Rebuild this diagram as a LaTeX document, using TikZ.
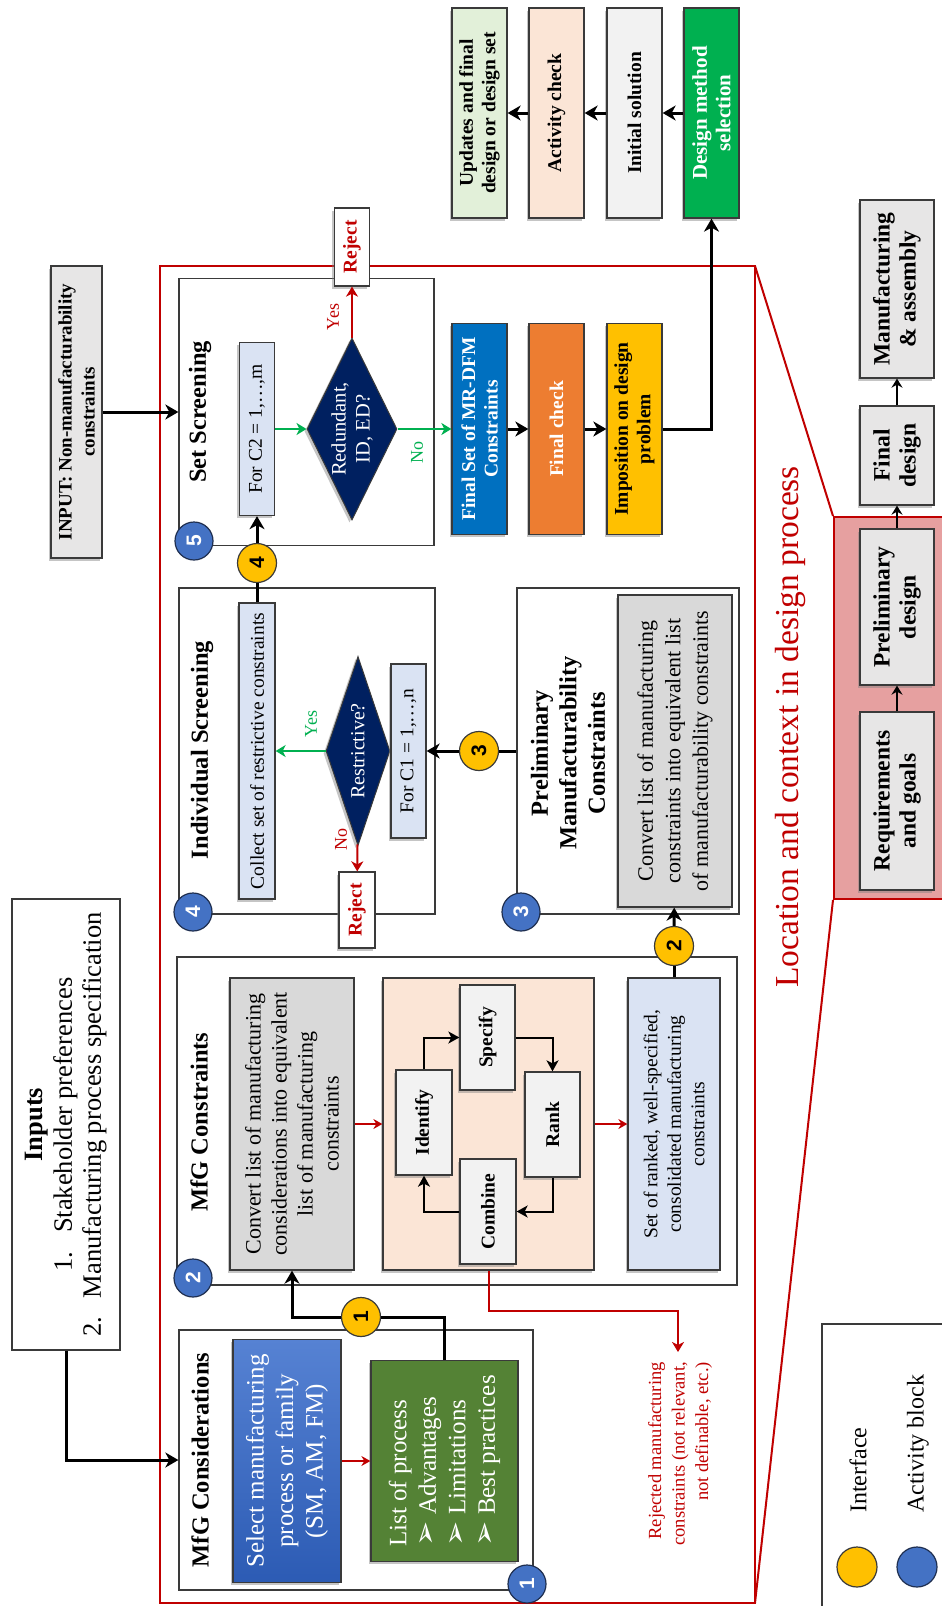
\documentclass[tikz,border=0pt]{standalone}
\usepackage{fontspec}
\setmainfont{Liberation Serif}
\newfontfamily\sansf{Liberation Sans}
\newfontfamily\dejavu{DejaVu Sans}
\usetikzlibrary{arrows.meta,shapes.geometric,shadows}
\definecolor{redc}{HTML}{C00000}
\definecolor{greenc}{HTML}{00B050}
\definecolor{navyc}{HTML}{002060}
\definecolor{lblue}{HTML}{DAE3F3}
\definecolor{bluec}{HTML}{0070C0}
\definecolor{orangec}{HTML}{ED7D31}
\definecolor{goldc}{HTML}{FFC000}
\definecolor{lgreen}{HTML}{E2F0D9}
\definecolor{peach}{HTML}{FBE5D6}
\definecolor{lgray}{HTML}{F2F2F2}
\definecolor{mgray}{HTML}{D9D9D9}
\definecolor{pgray}{HTML}{E7E6E6}
\definecolor{listgreen}{HTML}{548235}
\definecolor{bluetop}{HTML}{5682D3}
\definecolor{bluebot}{HTML}{2C5BB4}
\definecolor{pinkc}{HTML}{E6A0A0}
\definecolor{circblue}{HTML}{4472C4}
\definecolor{edgec}{HTML}{3A3A3A}
\definecolor{circedge}{HTML}{1F2F50}
\newcommand{\itemarrow}{\makebox[32pt][l]{\dejavu\fontsize{30}{30}\selectfont ➢}}
\tikzset{
  rot/.style={rotate=90},
  frame/.style={rot, draw=edgec, line width=1.3pt, fill=white, inner sep=0pt},
  box/.style={rot, draw=edgec, line width=1.3pt, inner sep=1pt, align=center,
    drop shadow={shadow xshift=-2.5pt, shadow yshift=-2.5pt, opacity=0.45}},
  txtb/.style={font=\bfseries\fontsize{19.5}{22.5}\selectfont},
  txtr/.style={font=\fontsize{19.5}{23.5}\selectfont},
  txtl/.style={font=\fontsize{25}{29.5}\selectfont},
  heading/.style={rot, font=\bfseries\fontsize{24.5}{28.5}\selectfont, align=center},
  ycirc/.style={circle, rot, draw=edgec, line width=1.2pt, fill=goldc, minimum size=39pt, inner sep=0pt, font=\sansf\bfseries\fontsize{21}{21}\selectfont},
  bcirc/.style={circle, rot, draw=circedge, line width=1.2pt, fill=circblue, text=white, minimum size=38pt, inner sep=0pt, font=\sansf\bfseries\fontsize{21}{21}\selectfont},
  flow/.style={line width=3pt, draw=black, -{Stealth[length=13pt,width=15pt,inset=4pt]}},
  flowline/.style={line width=3pt, draw=black},
  smallflow/.style={line width=2.6pt, draw=black, -{Stealth[length=9pt,width=11pt,inset=3pt]}},
  cyc/.style={line width=2pt, draw=black, -{Stealth[length=11pt,width=12pt,inset=3pt]}},
  garrow/.style={line width=2pt, draw=greenc, -{Stealth[length=10pt,width=12pt,inset=3pt]}},
  rarrow/.style={line width=2pt, draw=redc, -{Stealth[length=10pt,width=12pt,inset=3pt]}},
  thinred/.style={line width=1.2pt, draw=redc, -{Stealth[length=9pt,width=10pt,inset=3pt]}},
  lbl/.style={rot, font=\fontsize{18}{20}\selectfont},
}
\begin{document}
\begin{tikzpicture}[x=1pt,y=-1pt]
\useasboundingbox (0,0) rectangle (942,1606);
\clip (0,0) rectangle (942,1606);
\fill[white] (0,0) rectangle (942,1606);

% ---------- context (right side) ----------
\draw[redc, line width=2pt] (160,266) rectangle (755,1603);
\coordinate (ftr) at (755,266);
\coordinate (fbr) at (755,1603);
\node[rot, draw=redc, line width=2pt, fill=pinkc, minimum width=382pt, minimum height=130pt, inner sep=0pt] (pink) at (899,708) {};
\draw[redc, line width=2pt] (ftr) -- (pink.north east);
\draw[redc, line width=2pt] (fbr) -- (pink.north west);
\node[rot, text=redc, font=\fontsize{33.5}{36}\selectfont] (loc) at (790,727) {Location and context in design process};

\node[box, fill=pgray, font=\bfseries\fontsize{23.5}{26}\selectfont, minimum width=178pt, minimum height=74pt] (manuf) at (897,289) {Manufacturing\\\& assembly};
\node[box, fill=pgray, font=\bfseries\fontsize{23.5}{26}\selectfont, minimum width=99pt, minimum height=74pt] (finald) at (897,455.5) {Final\\design};
\node[box, fill=pgray, font=\bfseries\fontsize{23.5}{26}\selectfont, minimum width=156pt, minimum height=74pt] (prelimd) at (897,607) {Preliminary\\design};
\node[box, fill=pgray, font=\bfseries\fontsize{23.5}{26}\selectfont, minimum width=178pt, minimum height=74pt] (req) at (897,801) {Requirements\\and goals};
\draw[smallflow] (req) -- (prelimd);
\draw[smallflow] (prelimd) -- (finald);
\draw[smallflow] (finald) -- (manuf);

% legend
\node[rot, draw=edgec, line width=1.2pt, fill=white, minimum width=320pt, minimum height=160pt] (legend) at (902,1484) {};
\node[ycirc, minimum size=40pt] (legy) at (857,1567) {};
\node[bcirc, minimum size=40pt] (legb) at (917,1567) {};
\node[rot, anchor=west, font=\fontsize{24}{26}\selectfont, inner sep=0pt] (legyt) at (858,1513) {Interface};
\node[rot, anchor=west, font=\fontsize{24}{26}\selectfont, inner sep=0pt] (legbt) at (918,1513) {Activity block};

% ---------- top right chain ----------
\node[box, fill=lgreen, txtb, minimum width=210pt, minimum height=55pt] (upd) at (479.5,113) {Updates and final\\design or design set};
\node[box, fill=peach, txtb, minimum width=210pt, minimum height=55pt] (act) at (556.5,113) {Activity check};
\node[box, fill=lgray, txtb, minimum width=210pt, minimum height=55pt] (init) at (634.5,113) {Initial solution};
\node[box, fill=greenc, text=white, font=\bfseries\fontsize{21}{23.5}\selectfont, minimum width=210pt, minimum height=55pt] (design) at (711.5,113) {Design method\\selection};
\draw[flow] (design) -- (init);
\draw[flow] (init) -- (act);
\draw[flow] (act) -- (upd);

% ---------- inputs ----------
\node[rot, draw=edgec, line width=1.3pt, fill=white, align=center, minimum width=451pt, minimum height=108pt, font=\fontsize{26.5}{29}\selectfont] (inputs) at (66,1124.5)
  {\textbf{Inputs}\\1.\hspace{0.7em}Stakeholder preferences\\2.\hspace{0.7em}Manufacturing process specification};
\node[box, fill=pgray, font=\bfseries\fontsize{19}{23}\selectfont, minimum width=292pt, minimum height=51pt] (nonmfg) at (76.5,412) {INPUT: Non-manufacturability\\constraints};

% ---------- Set Screening ----------
\node[frame, minimum width=267pt, minimum height=255pt] (setscr) at (306.5,412) {};
\node[heading] (setscrt) at (200,412) {Set Screening};
\node[box, fill=lblue, txtr, minimum width=173pt, minimum height=35pt] (forc2) at (257,429) {For C2 = 1,\ldots,m};
\node[diamond, rot, draw=edgec, line width=1pt, fill=navyc, minimum width=182pt, minimum height=90pt, inner sep=0pt,
  drop shadow={shadow xshift=-2.5pt, shadow yshift=-2.5pt, opacity=0.45}] (dia1) at (352,429) {};
\node[rot, text=white, align=center, font=\fontsize{20.5}{24}\selectfont] (dia1t) at (dia1) {Redundant,\\ID, ED?};
\node[box, fill=white, text=redc, txtb, minimum width=78pt, minimum height=35pt] (reject1) at (352,247) {Reject};
\node[box, fill=bluec, text=white, txtb, minimum width=211pt, minimum height=55pt] (finalset) at (479.5,429) {Final Set of MR-DFM\\Constraints};
\node[box, fill=orangec, text=white, txtb, minimum width=211pt, minimum height=55pt] (fcheck) at (556.5,429) {Final check};
\node[box, fill=goldc, txtb, minimum width=211pt, minimum height=55pt] (impos) at (634.5,429) {Imposition on design\\problem};

% ---------- Individual Screening ----------
\node[frame, minimum width=326pt, minimum height=256pt] (indscr) at (307,751) {};
\node[heading] (indscrt) at (202,750) {Individual Screening};
\node[box, fill=lblue, txtr, minimum width=296pt, minimum height=36pt] (collect) at (257,751) {Collect set of restrictive constraints};
\node[diamond, rot, draw=edgec, line width=1pt, fill=navyc, minimum width=189pt, minimum height=64pt, inner sep=0pt,
  drop shadow={shadow xshift=-2.5pt, shadow yshift=-2.5pt, opacity=0.45}] (dia2) at (358,751) {};
\node[rot, text=white, font=\fontsize{20}{24}\selectfont] (dia2t) at (dia2) {Restrictive?};
\node[box, fill=lblue, txtr, minimum width=174pt, minimum height=35pt] (forc1) at (408.5,751) {For C1 = 1,\ldots,n};
\node[box, fill=white, text=redc, txtb, minimum width=76pt, minimum height=36pt] (reject2) at (357,910) {Reject};

% ---------- Preliminary Manufacturability Constraints ----------
\node[frame, minimum width=326pt, minimum height=222pt] (prelim) at (628,751) {};
\node[heading] (prelimt) at (568,753) {Preliminary\\Manufacturability\\Constraints};
\node[box, fill=mgray, font=\fontsize{22}{27.5}\selectfont, minimum width=312pt, minimum height=114pt] (pgbox) at (675,751)
  {Convert list of manufacturing\\constraints into equivalent list\\of manufacturability constraints};

% ---------- MfG Constraints ----------
\node[frame, minimum width=328pt, minimum height=560pt] (mfgc) at (457,1121) {};
\node[heading] (mfgct) at (199,1122) {MfG Constraints};
\node[box, fill=mgray, font=\fontsize{22}{26}\selectfont, minimum width=292pt, minimum height=124pt] (mcgray) at (292,1124)
  {Convert list of manufacturing\\considerations into equivalent\\list of manufacturing\\constraints};
\node[box, fill=peach, minimum width=292pt, minimum height=211pt] (peachbox) at (488.5,1124) {};
\node[box, fill=lgray, txtb, minimum width=105pt, minimum height=56pt] (identify) at (424,1122.5) {Identify};
\node[box, fill=lgray, txtb, minimum width=105pt, minimum height=55pt] (specify) at (487.5,1037.5) {Specify};
\node[box, fill=lgray, txtb, minimum width=105pt, minimum height=55pt] (rank) at (552.5,1124.5) {Rank};
\node[box, fill=lgray, txtb, minimum width=105pt, minimum height=56pt] (combine) at (488,1211.5) {Combine};
\node[box, fill=lblue, txtr, minimum width=292pt, minimum height=92pt] (ranked) at (674,1124)
  {Set of ranked, well-specified,\\consolidated manufacturing\\constraints};

% ---------- MfG Considerations ----------
\node[frame, minimum width=260pt, minimum height=354pt] (mfgcons) at (356,1460) {};
\node[heading] (mfgconst) at (200,1460) {MfG Considerations};
\node[box, top color=bluetop, bottom color=bluebot, text=white, txtl, minimum width=243pt, minimum height=108pt] (selbox) at (287,1461)
  {Select manufacturing\\process or family\\(SM, AM, FM)};
\node[box, fill=listgreen, text=white, txtl, align=left, minimum width=201pt, minimum height=147pt] (listbox) at (444.5,1461)
  {List of process\\\itemarrow Advantages\\\itemarrow Limitations\\\itemarrow Best practices};

% ---------- rejected note ----------
\node[rot, anchor=east, align=right, text=redc, font=\fontsize{18.5}{23.5}\selectfont, inner sep=0pt] (rejtxt) at (680,1362)
  {Rejected manufacturing\\constraints (not relevant,\\not definable, etc.)};
\coordinate (rejc) at (488.5,1311);
\coordinate (rejend) at (678,1352);

% ---------- circles ----------
\node[ycirc] (y1) at (361,1317) {1};
\node[ycirc] (y2) at (674,946) {2};
\node[ycirc] (y3) at (479,751) {3};
\node[ycirc] (y4) at (257,563) {4};
\node[bcirc] (b1) at (527,1584) {1};
\node[bcirc] (b2) at (193,1278) {2};
\node[bcirc] (b3) at (521,912) {3};
\node[bcirc] (b4) at (193,912) {4};
\node[bcirc] (b5) at (194,541) {5};

% ---------- connectors ----------
\draw[flow] (inputs) |- (mfgcons);
\draw[flow] (nonmfg) -- (setscr);
\draw[flowline] (collect) -- (y4);
\draw[flow] (y4) -- (forc2);
\draw[garrow] (forc2) -- (dia1);
\draw[garrow] (dia1) -- (finalset);
\draw[rarrow] (dia1) -- (reject1);
\draw[flow] (finalset) -- (fcheck);
\draw[flow] (fcheck) -- (impos);
\draw[flow] (impos) -| (design);
\draw[flowline] (prelim) -- (y3);
\draw[flow] (y3) -- (forc1);
\draw[garrow] (dia2) -- (collect);
\draw[rarrow] (dia2) -- (reject2);
\draw[flowline] (ranked) -- (y2);
\draw[flow] (y2) -- (pgbox);
\draw[flowline] (listbox) |- (y1);
\draw[flow] (y1) -| (mcgray);
\draw[thinred] (selbox) -- (listbox);
\draw[thinred] (mcgray) -- (peachbox);
\draw[thinred] (peachbox) -- (ranked);
\draw[cyc] (identify) |- (specify);
\draw[cyc] (specify) -| (rank);
\draw[cyc] (rank) |- (combine);
\draw[cyc] (combine) -| (identify);
\draw[rarrow] (peachbox) -- (rejc) -| (rejend);

% labels
\node[lbl, text=redc] (yes1) at (333,317) {Yes};
\node[lbl, text=greenc] (no1) at (417,452) {No};
\node[lbl, text=greenc] (yes2) at (311,724) {Yes};
\node[lbl, text=redc] (no2) at (341,839) {No};
\end{tikzpicture}
\end{document}
